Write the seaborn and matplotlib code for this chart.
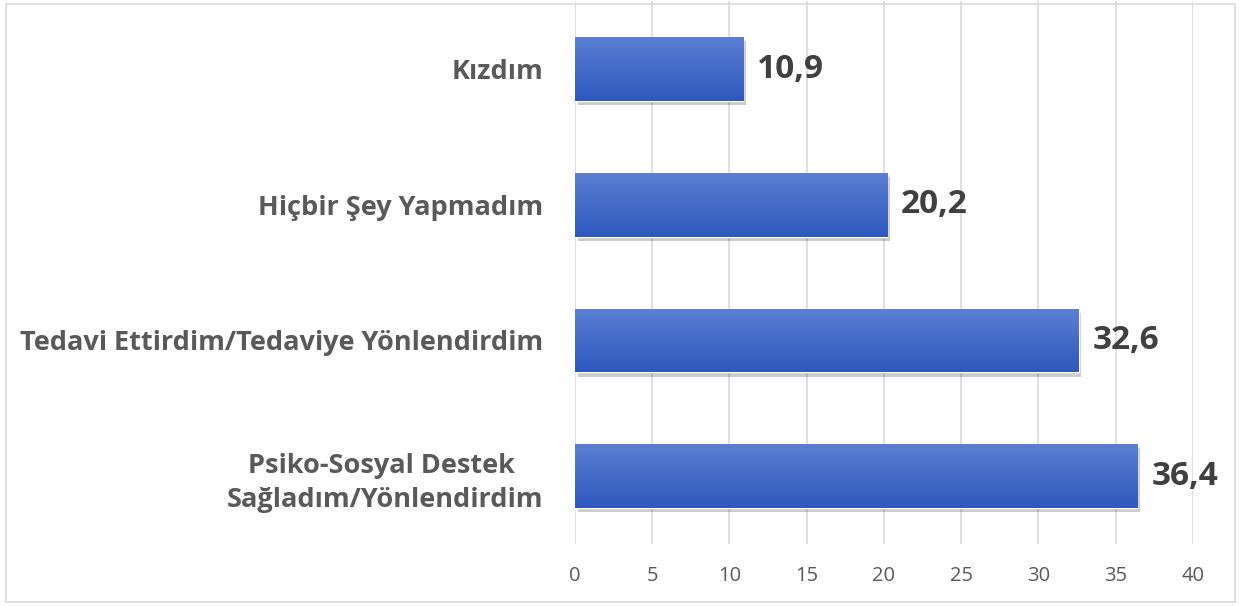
import numpy as np
import pandas as pd
import matplotlib
matplotlib.use("Agg")
import matplotlib.pyplot as plt
import matplotlib.patheffects as pe
from matplotlib.patches import Rectangle
import seaborn as sns

categories = ["Kızdım", "Hiçbir Şey Yapmadım", "Tedavi Ettirdim/Tedaviye Yönlendirdim",
              "Psiko-Sosyal Destek \nSağladım/Yönlendirdim"]
values = [10.9, 20.2, 32.6, 36.4]
value_labels = ["10,9", "20,2", "32,6", "36,4"]
xticks = [0, 5, 10, 15, 20, 25, 30, 35, 40]

sns.set_theme(style="white")
plt.rcParams['font.family'] = ['Open Sans', 'DejaVu Sans']

fig = plt.figure(figsize=(12.41, 6.06), dpi=100)
ax = fig.add_axes([0.4633, 0.1023, 0.4980, 0.8957])

df = pd.DataFrame({"cat": categories, "val": values})
sns.barplot(data=df, x="val", y="cat", orient="h", color="#3f68c8", width=0.47,
            ax=ax, saturation=1)

ax.set_xlim(0, 40)
ax.set_ylim(3.5, -0.5)
ax.set_xticks(xticks)
ax.set_xticklabels([str(t) for t in xticks], fontsize=14.5, color="#595959")
ax.tick_params(axis="x", length=0, pad=16)
ax.tick_params(axis="y", length=0, pad=23)
for lab in ax.get_yticklabels():
    lab.set_fontsize(19.5)
    lab.set_fontweight("bold")
    lab.set_color("#595959")
    lab.set_multialignment("center")
    lab.set_linespacing(1.4)
ax.set_xlabel("")
ax.set_ylabel("")
for s in ax.spines.values():
    s.set_visible(False)
ax.xaxis.grid(True, color="#d9d9d9", linewidth=1.2)
ax.set_axisbelow(True)

# gradient fill for bars
grad = np.linspace(0, 1, 256).reshape(-1, 1)
cmap = matplotlib.colors.LinearSegmentedColormap.from_list("g", ["#5b80d2", "#2d58bd"])
for p in list(ax.patches):
    x0, y0 = p.get_x(), p.get_y()
    w, h = p.get_width(), p.get_height()
    p.set_path_effects([pe.SimplePatchShadow(offset=(2, -3), shadow_rgbFace="#000000", alpha=0.2),
                        pe.Normal()])
    im = ax.imshow(grad, extent=[x0, x0 + w, y0 + h, y0], cmap=cmap, aspect="auto", zorder=p.get_zorder() + 0.1)
    im.set_clip_path(p)
ax.set_xlim(0, 40)
ax.set_ylim(3.5, -0.5)

for i, (v, lab) in enumerate(zip(values, value_labels)):
    ax.text(v + 0.9, i, lab, va="center", ha="left", fontsize=24, fontweight="bold", color="#404040")

fig.patches.append(Rectangle((0.005, 0.006), 0.99, 0.988, transform=fig.transFigure, fill=False,
                             edgecolor="#d9d9d9", linewidth=1.2))

fig.savefig("out.png", dpi=100)
